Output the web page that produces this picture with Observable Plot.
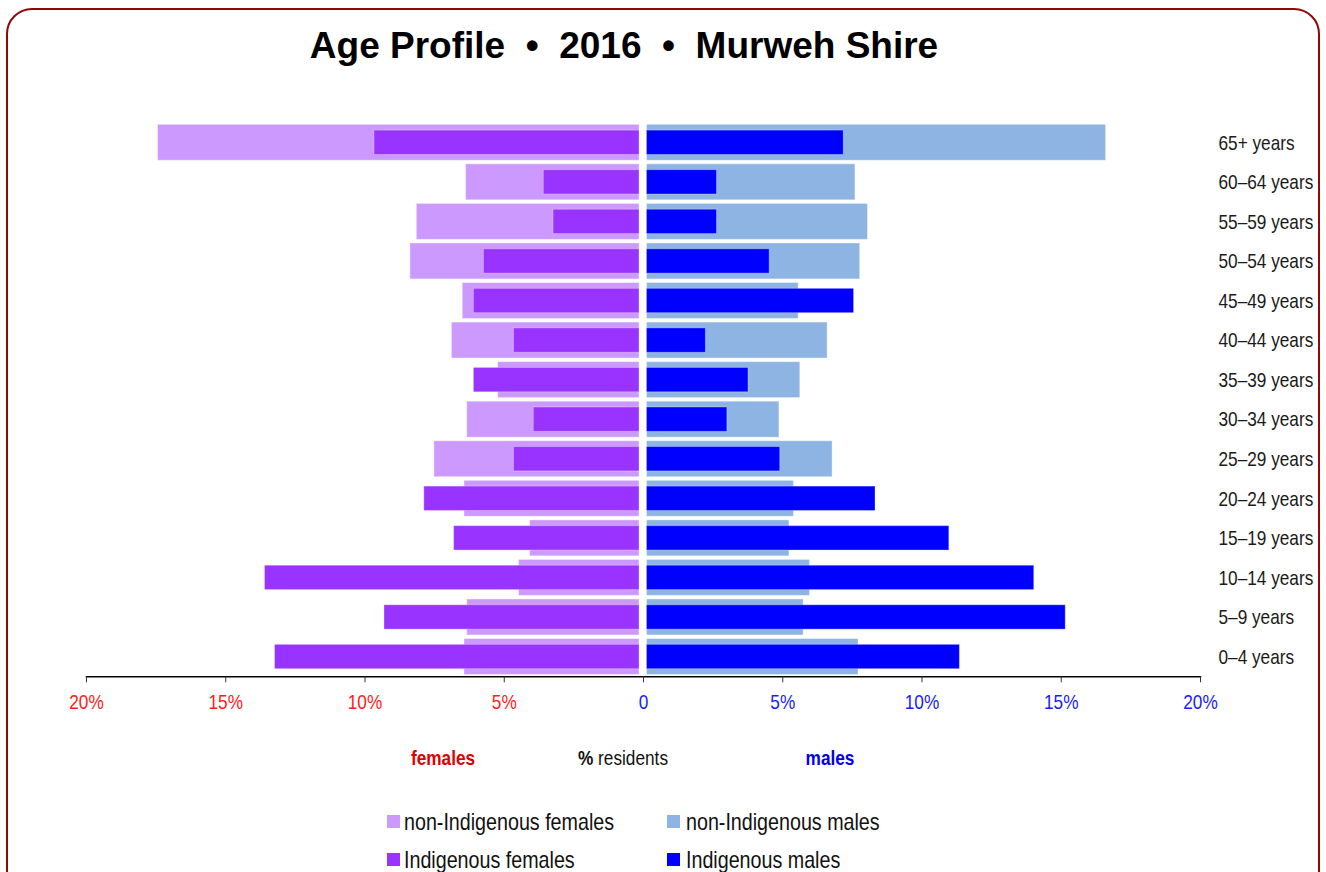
<!DOCTYPE html>
<html>
<head>
<meta charset="utf-8">
<script src="https://cdn.jsdelivr.net/npm/d3@7"></script>
<script src="https://cdn.jsdelivr.net/npm/@observablehq/plot@0.6"></script>
<style>
  html, body { margin: 0; padding: 0; background: #fff; overflow: hidden; }
  #wrap { position: relative; width: 1326px; height: 872px; overflow: hidden; font-family: "Liberation Sans", Arial, sans-serif; }
  #border { position: absolute; left: 6px; top: 8px; width: 1314px; height: 920px; border: 2px solid #8b0a0a; border-radius: 26px; box-sizing: border-box; }
  #chart { position: absolute; left: 0; top: 0; }
  .t { position: absolute; white-space: nowrap; line-height: 1; }
  #title { left: 0; width: 1248px; text-align: center; top: 27px; font-weight: bold; font-size: 37px; color: #000; }
  .c { transform-origin: 50% 50%; transform: translateX(-50%) scaleX(0.82); }
  .l { transform-origin: 0 50%; transform: scaleX(0.82); }
  .sw { position: absolute; width: 13px; height: 13px; }
</style>
</head>
<body>
<div id="wrap">
  <div id="border"></div>
  <div id="title" class="t">Age Profile &nbsp;•&nbsp; 2016 &nbsp;•&nbsp; Murweh Shire</div>
  <div id="chart"></div>
  <div class="t c" style="left:443px; top:747px; font-size:21px; font-weight:bold; color:#e00000;">females</div>
  <div class="t c" style="left:623px; top:747px; font-size:21px; color:#111;"><b>%</b> residents</div>
  <div class="t c" style="left:830px; top:747px; font-size:21px; font-weight:bold; color:#0000ee;">males</div>
  <div id="legend"></div>
</div>
<script>
const ages = ["65+ years","60–64 years","55–59 years","50–54 years","45–49 years","40–44 years","35–39 years","30–34 years","25–29 years","20–24 years","15–19 years","10–14 years","5–9 years","0–4 years"];
const femaleNonIndigenous = [17.43, 6.37, 8.14, 8.37, 6.49, 6.88, 5.22, 6.33, 7.51, 6.43, 4.07, 4.47, 6.33, 6.43];
const femaleIndigenous    = [9.66, 3.58, 3.23, 5.73, 6.09, 4.65, 6.09, 3.94, 4.65, 7.87, 6.80, 13.59, 9.30, 13.23];
const maleNonIndigenous   = [16.61, 7.61, 8.06, 7.78, 5.57, 6.61, 5.63, 4.88, 6.79, 5.40, 5.24, 5.98, 5.75, 7.72];
const maleIndigenous      = [7.19, 2.64, 2.64, 4.53, 7.56, 2.24, 3.77, 3.01, 4.91, 8.33, 10.98, 14.03, 15.16, 11.36];
const xTicks = [-20, -15, -10, -5, 0, 5, 10, 15, 20];

const seriesNames = ["non-Indigenous females", "non-Indigenous males", "Indigenous females", "Indigenous males"];
const seriesColors = ["#cc99ff", "#8db4e2", "#9933ff", "#0000ff"];

const rows = ages.map((age, i) => ({
  age,
  fNon: femaleNonIndigenous[i], fInd: femaleIndigenous[i],
  mNon: maleNonIndigenous[i], mInd: maleIndigenous[i]
}));

const fmt = d => d === 0 ? "0" : Math.abs(d) + "%";

const chart = Plot.plot({
  width: 1326,
  height: 720,
  marginTop: 122.5,
  marginBottom: 43.7,
  marginLeft: 86,
  marginRight: 126,
  style: { fontFamily: "Liberation Sans, Arial, sans-serif", fontSize: "21px", background: "transparent", overflow: "visible" },
  x: { domain: [-20, 20] },
  y: { domain: ages, padding: 0, round: false, label: null },
  marks: [
    Plot.barX(rows, { y: "age", x1: d => -d.fNon, x2: 0, fill: seriesColors[0], insetRight: 4, insetTop: 1.8, insetBottom: 1.8, stroke: "white", strokeOpacity: 0.4 }),
    Plot.barX(rows, { y: "age", x1: 0, x2: d => d.mNon, fill: seriesColors[1], insetLeft: 3.5, insetTop: 1.8, insetBottom: 1.8, stroke: "white", strokeOpacity: 0.4 }),
    Plot.barX(rows, { y: "age", x1: d => -d.fInd, x2: 0, fill: seriesColors[2], insetRight: 4, insetTop: 7.6, insetBottom: 7.6, stroke: "white", strokeOpacity: 0.3 }),
    Plot.barX(rows, { y: "age", x1: 0, x2: d => d.mInd, fill: seriesColors[3], insetLeft: 3.5, insetTop: 7.6, insetBottom: 7.6, stroke: "white", strokeOpacity: 0.3 }),
    Plot.frame({ anchor: "bottom", stroke: "#000", strokeWidth: 1.5 }),
    Plot.axisX({ ticks: xTicks.filter(d => d < 0), tickFormat: fmt, tickSize: 6, tickPadding: 11, stroke: "#333", fill: "#ff1a1a", fontSize: 21, label: null }),
    Plot.axisX({ ticks: xTicks.filter(d => d >= 0), tickFormat: fmt, tickSize: 6, tickPadding: 11, stroke: "#333", fill: "#1a1aff", fontSize: 21, label: null }),
    Plot.axisY({ anchor: "right", tickSize: 0, tickPadding: 18, textAnchor: "start", fill: "#1a1a1a", fontSize: 21, label: null })
  ]
});
document.getElementById("chart").appendChild(chart);

// condense axis texts (narrow-font look)
chart.querySelectorAll('g[aria-label$="tick label"] text').forEach(t => {
  const L = t.getComputedTextLength();
  if (L > 0) {
    t.setAttribute("textLength", (L * 0.82).toFixed(2));
    t.setAttribute("lengthAdjust", "spacingAndGlyphs");
  }
});

// legend
const legend = document.getElementById("legend");
const legendPos = [
  { x: 387, tx: 404, y: 815, ty: 810 },
  { x: 667, tx: 686, y: 815, ty: 810 },
  { x: 387, tx: 404, y: 853, ty: 848 },
  { x: 667, tx: 686, y: 853, ty: 848 }
];
seriesNames.forEach((name, i) => {
  const p = legendPos[i];
  const sw = document.createElement("div");
  sw.className = "sw";
  sw.style.left = p.x + "px"; sw.style.top = p.y + "px"; sw.style.background = seriesColors[i];
  legend.appendChild(sw);
  const t = document.createElement("div");
  t.className = "t l";
  t.style.left = p.tx + "px"; t.style.top = p.ty + "px"; t.style.fontSize = "24px"; t.style.color = "#111";
  t.textContent = name;
  legend.appendChild(t);
});
</script>
</body>
</html>
